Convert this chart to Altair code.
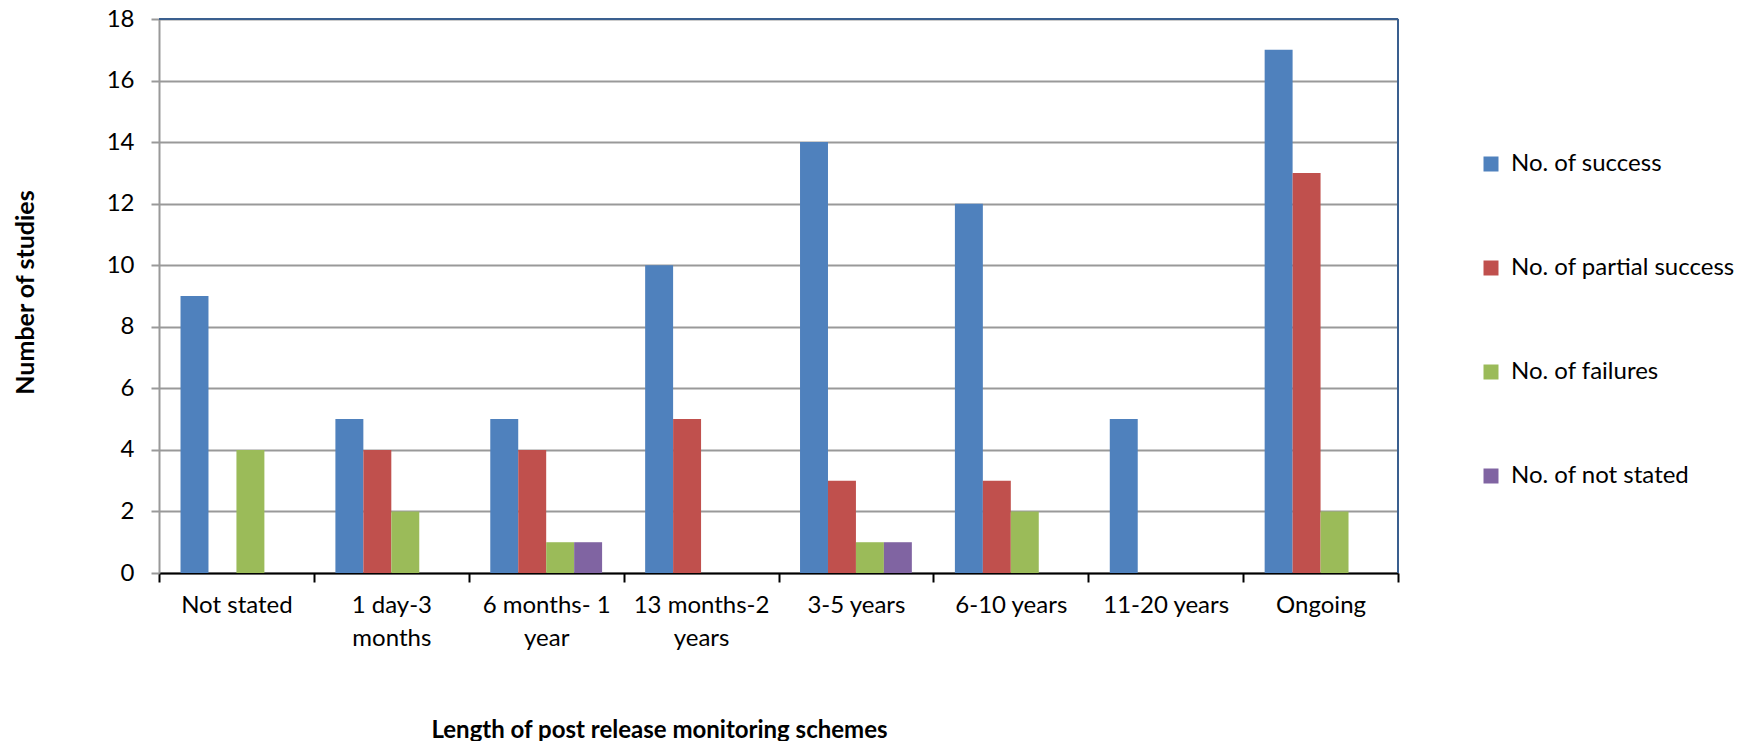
import altair as alt
import pandas as pd

categories = ["Not stated", "1 day-3|months", "6 months- 1|year", "13 months-2|years",
              "3-5 years", "6-10 years", "11-20 years", "Ongoing"]
series = ["No. of success", "No. of partial success", "No. of failures", "No. of not stated"]
success = [9, 5, 5, 10, 14, 12, 5, 17]
partial = [0, 4, 4, 5, 3, 3, 0, 13]
failures = [4, 2, 1, 0, 1, 2, 0, 2]
not_stated = [0, 0, 1, 0, 1, 0, 0, 0]
colors = ["#4F81BD", "#C0504D", "#9BBB59", "#8064A2"]
y_ticks = [0, 2, 4, 6, 8, 10, 12, 14, 16, 18]

rows = []
for i, c in enumerate(categories):
    for s, vals in zip(series, [success, partial, failures, not_stated]):
        rows.append({"cat": c, "series": s, "value": vals[i]})
df = pd.DataFrame(rows)

W, H = 1239, 554
FONT = "Lato"

bars = alt.Chart(df).mark_bar().encode(
    x=alt.X("cat:N", sort=categories,
            scale=alt.Scale(paddingInner=0, paddingOuter=0),
            axis=alt.Axis(title="Length of post release monitoring schemes",
                          labelAngle=0, labelExpr="split(datum.label, '|')",
                          labelFontSize=24, labelFont=FONT, labelColor="#000",
                          labelPadding=11, labelLineHeight=33,
                          tickBand="extent", tickSize=9, tickColor="#000", tickWidth=2,
                          domainColor="#000", domainWidth=2, grid=False,
                          titleFont=FONT, titleFontSize=24, titleFontWeight="bold",
                          titleColor="#000", titleX=500, titleY=157,
                          titleAlign="center", titleBaseline="middle")),
    xOffset=alt.XOffset("series:N", sort=series,
                        scale=alt.Scale(paddingInner=0, paddingOuter=0.77)),
    y=alt.Y("value:Q", scale=alt.Scale(domain=[0, 18], nice=False),
            axis=alt.Axis(title="Number of studies", values=y_ticks,
                          labelFontSize=24, labelFont=FONT, labelColor="#000",
                          labelPadding=17, tickSize=8, tickColor="#999", tickWidth=2,
                          domainColor="#999", domainWidth=2,
                          grid=True, gridColor="#999", gridWidth=2,
                          titleFont=FONT, titleFontSize=25, titleFontWeight="bold",
                          titleColor="#000", titleX=-134, titleY=273,
                          titleAngle=-90, titleAlign="center", titleBaseline="middle")),
    color=alt.Color("series:N", sort=series,
                    scale=alt.Scale(domain=series, range=colors),
                    legend=alt.Legend(title=None, orient="none", legendX=1320, legendY=133,
                                      symbolType="square", symbolSize=225,
                                      symbolStrokeWidth=0, labelFont=FONT,
                                      labelFontSize=24, labelColor="#000", labelLimit=0,
                                      labelOffset=8, rowPadding=80)),
)

top_border = alt.Chart(df).mark_rule(color="#3A5F8F", strokeWidth=2).encode(
    x=alt.value(0), x2=alt.value(W), y=alt.value(0))
right_border = alt.Chart(df).mark_rule(color="#3A5F8F", strokeWidth=2).encode(
    x=alt.value(W), y=alt.value(0), y2=alt.value(H))

chart = alt.layer(bars, top_border, right_border).properties(
    width=W, height=H,
    autosize=alt.AutoSizeParams(type="none"),
    padding={"left": 151, "top": 11, "right": 340, "bottom": 168},
).configure_view(stroke=None)

chart.save("out.html", embed_options={"renderer": "svg", "actions": False})
